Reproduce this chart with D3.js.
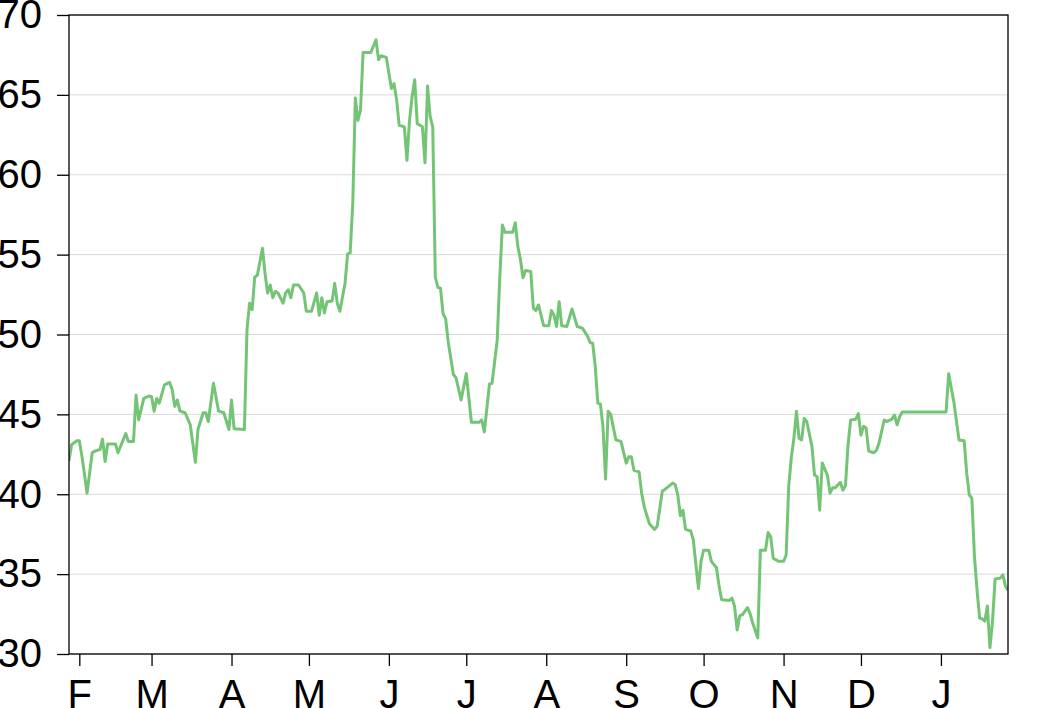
<!DOCTYPE html>
<html lang="en">
  <head>
    <meta charset="UTF-8" />
    <title>Line</title>
    <script src="https://d3js.org/d3.v7.min.js"></script>
    <style>
      body { margin: 0; background: #fff; }
      svg { display: block; }
    </style>
  </head>
  <body>
    <div id="chart"></div>
    <script>
      // values (one point per vertex)
      const dates = [
        "2017-01-28","2017-01-29","2017-01-31","2017-02-01","2017-02-02","2017-02-04","2017-02-06","2017-02-07",
        "2017-02-09","2017-02-10","2017-02-11","2017-02-12","2017-02-15","2017-02-16","2017-02-18","2017-02-19",
        "2017-02-20","2017-02-22","2017-02-23","2017-02-24","2017-02-26","2017-02-28","2017-03-01","2017-03-02",
        "2017-03-03","2017-03-04","2017-03-06","2017-03-08","2017-03-09","2017-03-10","2017-03-11","2017-03-12",
        "2017-03-14","2017-03-16","2017-03-18","2017-03-19","2017-03-21","2017-03-22","2017-03-23","2017-03-25",
        "2017-03-27","2017-03-29","2017-03-31","2017-04-01","2017-04-02","2017-04-06","2017-04-07","2017-04-08",
        "2017-04-09","2017-04-10","2017-04-11","2017-04-13","2017-04-14","2017-04-15","2017-04-16","2017-04-17",
        "2017-04-18","2017-04-19","2017-04-21","2017-04-22","2017-04-23","2017-04-24","2017-04-25","2017-04-27",
        "2017-04-29","2017-04-30","2017-05-02","2017-05-04","2017-05-05","2017-05-06","2017-05-07","2017-05-08",
        "2017-05-10","2017-05-11","2017-05-12","2017-05-13","2017-05-15","2017-05-16","2017-05-17","2017-05-18",
        "2017-05-19","2017-05-20","2017-05-21","2017-05-22","2017-05-25","2017-05-27","2017-05-28","2017-05-29",
        "2017-05-31","2017-06-01","2017-06-02","2017-06-03","2017-06-04","2017-06-05","2017-06-07","2017-06-08",
        "2017-06-09","2017-06-10","2017-06-11","2017-06-12","2017-06-14","2017-06-15","2017-06-16","2017-06-17",
        "2017-06-18","2017-06-19","2017-06-20","2017-06-21","2017-06-22","2017-06-23","2017-06-24","2017-06-26",
        "2017-06-27","2017-06-29","2017-07-01","2017-07-03","2017-07-06","2017-07-07","2017-07-08","2017-07-10",
        "2017-07-11","2017-07-13","2017-07-14","2017-07-15","2017-07-16","2017-07-19","2017-07-20","2017-07-21",
        "2017-07-22","2017-07-23","2017-07-24","2017-07-26","2017-07-27","2017-07-28","2017-07-29","2017-07-31",
        "2017-08-02","2017-08-03","2017-08-04","2017-08-05","2017-08-06","2017-08-07","2017-08-09","2017-08-11",
        "2017-08-13","2017-08-15","2017-08-17","2017-08-18","2017-08-19","2017-08-20","2017-08-21","2017-08-22",
        "2017-08-23","2017-08-24","2017-08-25","2017-08-26","2017-08-28","2017-08-30","2017-09-01","2017-09-02",
        "2017-09-03","2017-09-04","2017-09-06","2017-09-07","2017-09-08","2017-09-10","2017-09-12","2017-09-13",
        "2017-09-15","2017-09-16","2017-09-19","2017-09-20","2017-09-21","2017-09-22","2017-09-23","2017-09-24",
        "2017-09-26","2017-09-27","2017-09-29","2017-09-30","2017-10-01","2017-10-03","2017-10-04","2017-10-06",
        "2017-10-07","2017-10-08","2017-10-11","2017-10-12","2017-10-13","2017-10-14","2017-10-15","2017-10-16",
        "2017-10-18","2017-10-19","2017-10-20","2017-10-22","2017-10-23","2017-10-25","2017-10-26","2017-10-27",
        "2017-10-28","2017-10-30","2017-11-01","2017-11-02","2017-11-03","2017-11-04","2017-11-05","2017-11-06",
        "2017-11-07","2017-11-08","2017-11-09","2017-11-10","2017-11-12","2017-11-13","2017-11-14","2017-11-15",
        "2017-11-16","2017-11-18","2017-11-19","2017-11-20","2017-11-21","2017-11-23","2017-11-24","2017-11-25",
        "2017-11-26","2017-11-27","2017-11-29","2017-11-30","2017-12-01","2017-12-02","2017-12-03","2017-12-04",
        "2017-12-06","2017-12-07","2017-12-08","2017-12-10","2017-12-11","2017-12-13","2017-12-14","2017-12-15",
        "2017-12-16","2017-12-17","2018-01-03","2018-01-04","2018-01-05","2018-01-06","2018-01-08","2018-01-10",
        "2018-01-11","2018-01-12","2018-01-13","2018-01-14","2018-01-15","2018-01-16","2018-01-17","2018-01-18",
        "2018-01-19","2018-01-20","2018-01-21","2018-01-22","2018-01-24","2018-01-25","2018-01-26","2018-01-27"
      ];
      const values = [
        42.1, 43.1, 43.35, 43.35, 42.4, 40.07, 42.6, 42.7,
        42.8, 43.45, 42.05, 43.15, 43.15, 42.6, 43.4, 43.8,
        43.3, 43.3, 46.2, 44.65, 46.0, 46.15, 46.1, 45.2,
        46.0, 45.7, 46.85, 47.0, 46.55, 45.5, 45.9, 45.2,
        45.1, 44.35, 42.0, 44.05, 45.1, 45.1, 44.55, 46.95,
        45.2, 45.1, 44.05, 45.9, 44.1, 44.05, 50.3, 51.96,
        51.55, 53.6, 53.7, 55.4, 53.8, 52.6, 53.1, 52.3,
        52.7, 52.6, 51.96, 52.6, 52.8, 52.3, 53.1, 53.1,
        52.6, 51.45, 51.45, 52.6, 51.2, 52.3, 51.35, 52.05,
        52.1, 53.2, 51.96, 51.45, 53.2, 55.05, 55.1, 58.2,
        64.8, 63.4, 64.05, 67.65, 67.65, 68.45, 67.2, 67.45,
        67.35, 66.35, 65.4, 65.7, 64.7, 63.1, 63.0, 60.9,
        63.4, 64.9, 65.95, 63.2, 63.0, 60.75, 65.55, 63.65,
        63.0, 53.6, 52.95, 52.9, 51.3, 51.0, 49.55, 47.5,
        47.3, 45.9, 47.55, 44.5, 44.5, 44.65, 43.9, 46.9,
        46.95, 49.65, 53.6, 56.85, 56.4, 56.4, 57.0, 55.5,
        54.7, 53.55, 54.0, 53.95, 51.65, 51.5, 51.85, 50.55,
        50.55, 51.5, 51.2, 50.5, 52.05, 50.55, 50.5, 51.6,
        50.5, 50.4, 49.9, 49.5, 49.45, 48.0, 45.7, 45.65,
        44.2, 40.95, 45.2, 45.0, 43.4, 43.3, 41.95, 42.35,
        42.35, 41.5, 41.4, 40.05, 39.2, 38.15, 37.8, 38.0,
        40.2, 40.3, 40.7, 40.6, 39.95, 38.65, 39.0, 37.8,
        37.7, 37.15, 34.1, 35.8, 36.5, 36.5, 35.8, 35.4,
        34.25, 33.4, 33.35, 33.5, 32.98, 31.5, 32.4, 32.45,
        32.9, 32.55, 31.95, 31.0, 36.5, 36.5, 37.6, 37.35,
        36.0, 35.8, 35.8, 36.2, 40.5, 42.3, 43.5, 45.2,
        43.5, 43.4, 44.75, 44.55, 43.0, 41.2, 41.1, 39.0,
        41.95, 41.2, 40.07, 40.4, 40.4, 40.75, 40.25, 40.55,
        43.1, 44.65, 44.7, 45.05, 43.7, 44.25, 44.15, 42.7,
        42.6, 42.75, 43.2, 44.65, 44.55, 44.7, 44.95, 44.35,
        44.85, 45.15, 45.15, 47.55, 46.65, 45.8, 43.4, 43.35,
        41.3, 39.95, 39.75, 36.1, 34.0, 32.25, 32.2, 32.05,
        33.0, 30.4, 32.05, 34.7, 34.75, 34.95, 34.25, 34.0
      ];
      const xDomain = ["2017-01-28", "2018-01-27"];
      const yDomain = [30, 70];
      const yTicks = [30, 35, 40, 45, 50, 55, 60, 65, 70];
      const monthLabels = ["J", "F", "M", "A", "M", "J", "J", "A", "S", "O", "N", "D"];

      const parse = d3.timeParse("%Y-%m-%d");
      const data = dates.map((d, i) => ({ date: parse(d), value: values[i] }));

      var margin = { top: 15, right: 32, bottom: 54, left: 69 },
        width = 1040 - margin.left - margin.right,
        height = 708 - margin.top - margin.bottom;

      var svg = d3
        .select("#chart")
        .append("svg")
        .attr("width", 1040)
        .attr("height", 708)
        .append("g")
        .attr("transform", "translate(" + margin.left + "," + margin.top + ")");

      var x = d3.scaleTime().domain(xDomain.map(parse)).range([0, width]);
      var y = d3.scaleLinear().domain(yDomain).range([height, 0]);

      // grid lines
      svg
        .append("g")
        .selectAll("line")
        .data(yTicks)
        .enter()
        .append("line")
        .attr("x1", 0)
        .attr("x2", width)
        .attr("y1", (d) => y(d))
        .attr("y2", (d) => y(d))
        .attr("stroke", "#d9d9d9")
        .attr("stroke-width", 1);

      // y axis
      var yAxis = svg
        .append("g")
        .call(d3.axisLeft(y).tickValues(yTicks).tickSize(12).tickSizeOuter(0).tickPadding(15));

      // x axis
      var xAxis = svg
        .append("g")
        .attr("transform", "translate(0," + height + ")")
        .call(
          d3
            .axisBottom(x)
            .ticks(d3.timeMonth.every(1))
            .tickFormat((d) => monthLabels[d.getMonth()])
            .tickSize(12)
            .tickSizeOuter(0)
        );

      [yAxis, xAxis].forEach((g) => {
        g.select(".domain").remove();
        g.selectAll(".tick line").attr("stroke", "#000").attr("stroke-width", 1.3);
        g.selectAll(".tick text")
          .attr("fill", "#000")
          .style("font-family", "'Liberation Sans', Arial, sans-serif")
          .style("font-size", "40px");
      });
      xAxis.selectAll(".tick text").attr("y", 26);

      // clip + line
      svg
        .append("clipPath")
        .attr("id", "clip")
        .append("rect")
        .attr("width", width)
        .attr("height", height);

      var line = d3
        .line()
        .x((d) => x(d.date))
        .y((d) => y(d.value));

      svg
        .append("path")
        .datum(data)
        .attr("clip-path", "url(#clip)")
        .attr("fill", "none")
        .attr("stroke", "#74c476")
        .attr("stroke-width", 3)
        .attr("stroke-linejoin", "round")
        .attr("d", line);

      // frame
      svg
        .append("rect")
        .attr("width", width)
        .attr("height", height)
        .attr("fill", "none")
        .attr("stroke", "#000")
        .attr("stroke-width", 1.3);
    </script>
  </body>
</html>
